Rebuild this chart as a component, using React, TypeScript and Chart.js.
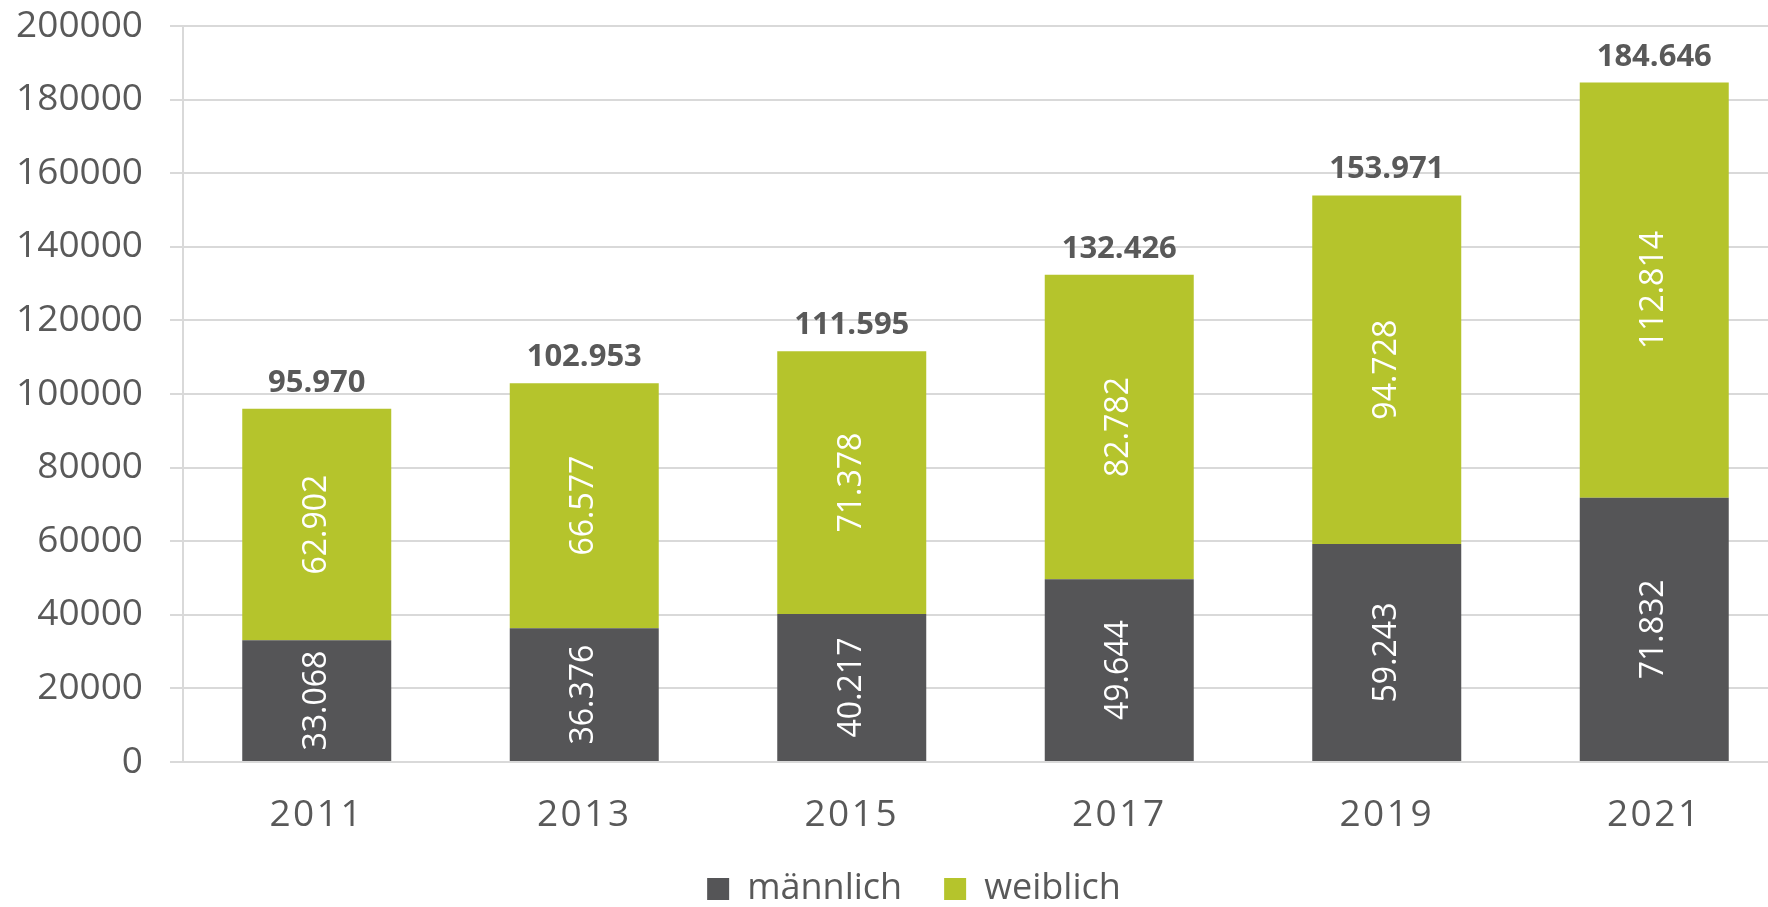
import React, { useEffect, useRef } from "react";
import { Chart, registerables } from "chart.js";

Chart.register(...registerables);

const years = ["2011", "2013", "2015", "2017", "2019", "2021"];
const maennlich = [33068, 36376, 40217, 49644, 59243, 71832];
const weiblich = [62902, 66577, 71378, 82782, 94728, 112814];
const totals = [95970, 102953, 111595, 132426, 153971, 184646];
const yTicks = [0, 20000, 40000, 60000, 80000, 100000, 120000, 140000, 160000, 180000, 200000];

const DARK = "#555557";
const GREEN = "#b5c42c";
const TEXT = "#595959";
const GRID = "#d9d9d9";
const FONT = "'Open Sans', 'Noto Sans', sans-serif";

const fmt = (v: number) => String(v).replace(/\B(?=(\d{3})+(?!\d))/g, ".");

const labelPlugin = {
  id: "barLabels",
  afterLayout(chart: any) {
    const lg = chart.legend;
    if (lg) {
      lg.left += 20;
      lg.right += 20;
      lg.top -= 2;
      lg.bottom -= 2;
    }
  },
  afterDatasetsDraw(chart: any) {
    const ctx = chart.ctx;
    ctx.save();
    chart.data.datasets.forEach((ds: any, i: number) => {
      const meta = chart.getDatasetMeta(i);
      meta.data.forEach((bar: any, j: number) => {
        const p = bar.getProps(["x", "y", "base"], true);
        const cy = (p.y + p.base) / 2;
        ctx.save();
        ctx.translate(p.x, cy);
        ctx.rotate(-Math.PI / 2);
        ctx.fillStyle = "#ffffff";
        ctx.font = `32px ${FONT}`;
        ctx.textAlign = "center";
        ctx.textBaseline = "middle";
        ctx.fillText(fmt(ds.data[j]), 0, 0);
        ctx.restore();
      });
    });
    const top = chart.getDatasetMeta(chart.data.datasets.length - 1);
    top.data.forEach((bar: any, j: number) => {
      const p = bar.getProps(["x", "y"], true);
      ctx.fillStyle = TEXT;
      ctx.font = `bold 31px ${FONT}`;
      ctx.textAlign = "center";
      ctx.textBaseline = "alphabetic";
      ctx.fillText(fmt(totals[j]), p.x, p.y - 17);
    });
    ctx.restore();
    // letter spacing for x-axis labels (drawn after datasets, z = 1)
    ctx.letterSpacing = "2.5px";
  },
  afterDraw(chart: any) {
    chart.ctx.letterSpacing = "0px";
  },
};

export default function App() {
  const ref = useRef<HTMLCanvasElement>(null);
  useEffect(() => {
    if (!ref.current) return;
    const chart = new Chart(ref.current, {
      type: "bar",
      data: {
        labels: years,
        datasets: [
          { label: "männlich", data: maennlich, backgroundColor: DARK },
          { label: "weiblich", data: weiblich, backgroundColor: GREEN },
        ],
      },
      options: {
        responsive: false,
        animation: false,
        devicePixelRatio: 1,
        datasets: { bar: { categoryPercentage: 1, barPercentage: 0.557 } },
        layout: { padding: { top: 26, right: 2, left: 0, bottom: 0 } },
        font: { family: FONT },
        plugins: {
          tooltip: { enabled: false },
          legend: {
            position: "bottom",
            maxHeight: 76,
            labels: {
              color: TEXT,
              font: { family: FONT, size: 36 },
              boxWidth: 22,
              boxHeight: 22,
              padding: 42,
            },
          },
        },
        scales: {
          x: {
            stacked: true,
            grid: { display: false, drawTicks: false },
            border: { display: false },
            ticks: {
              color: TEXT,
              font: { family: FONT, size: 37 },
              padding: 31,
              z: 1,
            },
            afterFit: (s: any) => {
              s.height = 69;
            },
          },
          y: {
            stacked: true,
            min: 0,
            max: 200000,
            afterBuildTicks: (s: any) => {
              s.ticks = yTicks.map((v) => ({ value: v }));
            },
            grid: { color: GRID, lineWidth: 2, tickLength: 13, drawTicks: true },
            border: { display: true, color: GRID, width: 2 },
            ticks: {
              color: TEXT,
              font: { family: FONT, size: 37 },
              padding: 27,
              callback: (v: any) => String(v),
            },
            afterFit: (s: any) => {
              s.width = 183;
              s.paddingTop = 0;
              s.paddingBottom = 0;
            },
          },
        },
      },
      plugins: [labelPlugin],
    } as any);
    return () => chart.destroy();
  }, []);
  return (
    <div style={{ position: "fixed", left: 0, top: 0, width: 1768, height: 907, overflow: "hidden", background: "#fff" }}>
      <canvas ref={ref} width={1790} height={907} style={{ display: "block", width: 1790, height: 907 }} />
    </div>
  );
}
